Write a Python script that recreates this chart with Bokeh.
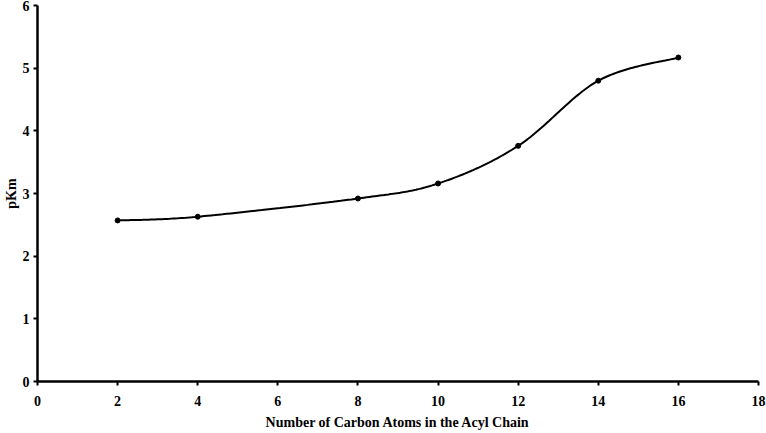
import numpy as np
from bokeh.plotting import figure
from bokeh.models import FixedTicker, Range1d
from bokeh.embed import file_html
from bokeh.resources import INLINE

# Data
carbon_atoms = [2, 4, 8, 10, 12, 14, 16]
pkm = [2.57, 2.63, 2.92, 3.16, 3.76, 4.80, 5.17]
x_ticks = [0, 2, 4, 6, 8, 10, 12, 14, 16, 18]
y_ticks = [0, 1, 2, 3, 4, 5, 6]


def catmull_rom(xs, ys, n=40):
    P = np.column_stack([xs, ys]).astype(float)
    P = np.vstack([P[0], P, P[-1]])
    out = []
    for i in range(1, len(P) - 2):
        p0, p1, p2, p3 = P[i - 1], P[i], P[i + 1], P[i + 2]
        t = np.linspace(0, 1, n)[:, None]
        seg = 0.5 * ((2 * p1) + (-p0 + p2) * t + (2 * p0 - 5 * p1 + 4 * p2 - p3) * t ** 2
                     + (-p0 + 3 * p1 - 3 * p2 + p3) * t ** 3)
        out.append(seg if i == 1 else seg[1:])
    a = np.vstack(out)
    return a[:, 0], a[:, 1]


cx, cy = catmull_rom(carbon_atoms, pkm)

FONT = "Liberation Serif"

p = figure(width=766, height=433, output_backend="svg", toolbar_location=None,
           x_range=Range1d(0, 18), y_range=Range1d(0, 6),
           min_border_left=37, min_border_right=8, min_border_top=5, min_border_bottom=52)
p.outline_line_color = None
p.xgrid.visible = False
p.ygrid.visible = False

p.line(cx, cy, line_color="black", line_width=2)
p.scatter(carbon_atoms, pkm, size=5, fill_color="black", line_color="black")

for ax in (p.xaxis[0], p.yaxis[0]):
    ax.axis_line_width = 2.5
    ax.axis_line_color = "black"
    ax.major_tick_line_width = 2
    ax.major_tick_line_color = "black"
    ax.major_tick_out = 4
    ax.major_tick_in = 0
    ax.minor_tick_line_color = None
    ax.major_label_text_font = FONT
    ax.major_label_text_font_style = "bold"
    ax.major_label_text_font_size = "14px"
    ax.major_label_text_color = "black"
    ax.axis_label_text_font = FONT
    ax.axis_label_text_font_style = "bold"
    ax.axis_label_text_font_size = "14px"
    ax.axis_label_text_color = "black"

p.xaxis.ticker = FixedTicker(ticks=x_ticks)
p.yaxis.ticker = FixedTicker(ticks=y_ticks)
p.xaxis.axis_label = "Number of Carbon Atoms in the Acyl Chain"
p.yaxis.axis_label = "pKm"
p.xaxis.major_label_standoff = 10
p.xaxis.axis_label_standoff = 6
p.yaxis.major_label_standoff = 4
p.yaxis.axis_label_standoff = 1

open("out.html", "w").write(file_html(p, INLINE))
